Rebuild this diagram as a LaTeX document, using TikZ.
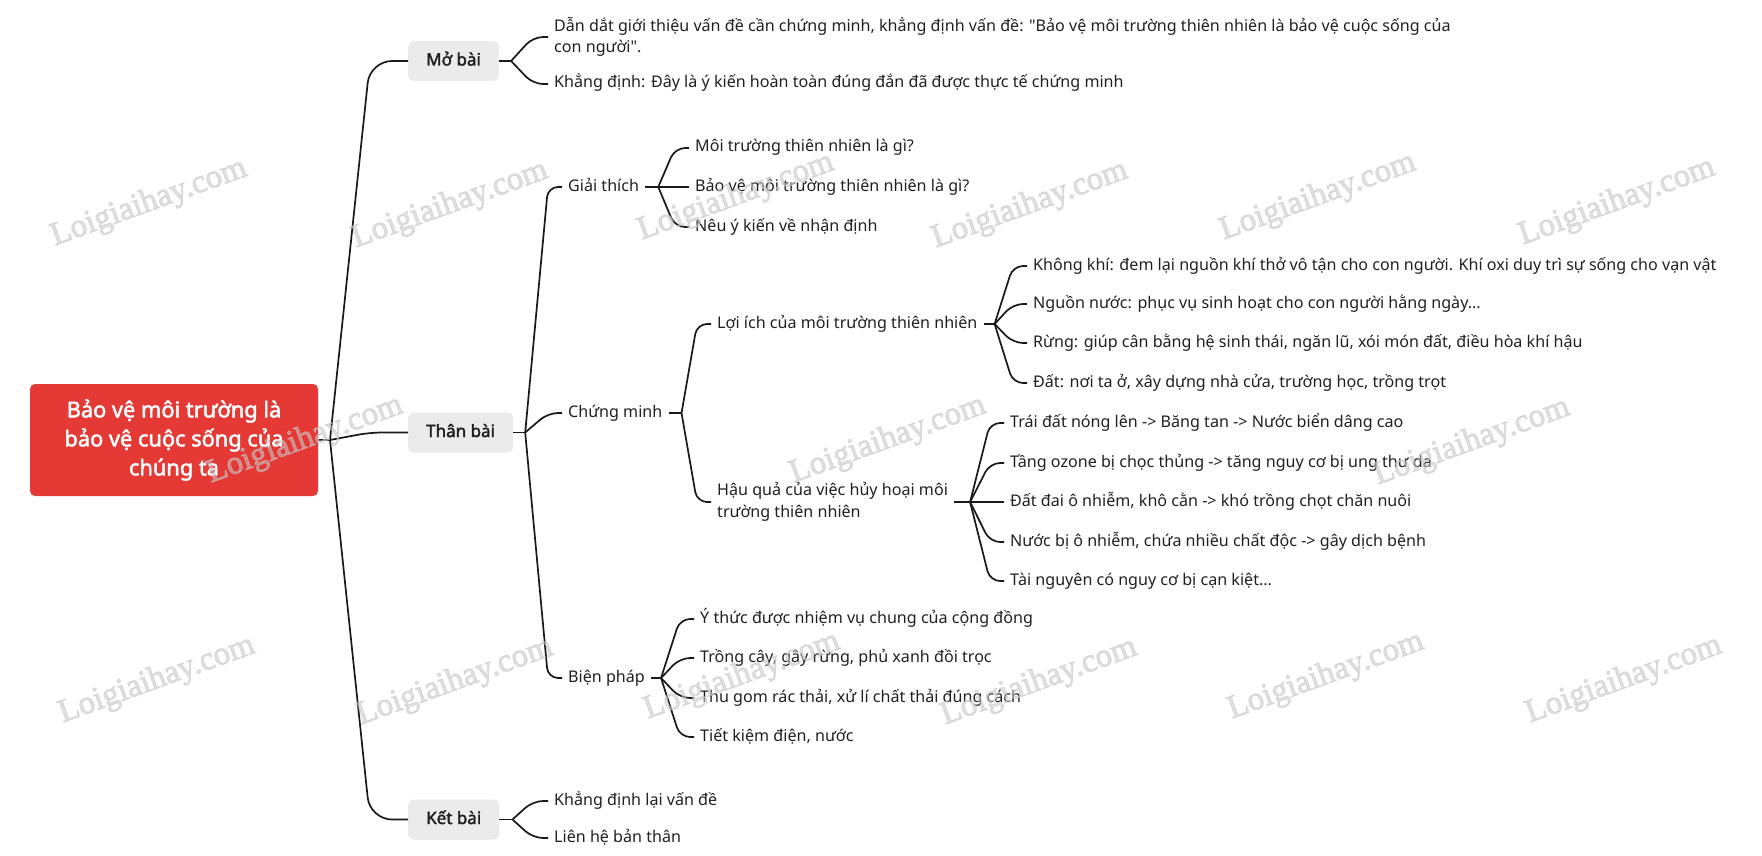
\documentclass[tikz,border=0pt]{standalone}
\usepackage{fontspec}
\setmainfont{Noto Sans}[Ligatures=TeXOff, AutoFakeBold=2.2]
\newfontfamily\wmfont{Liberation Serif}[AutoFakeBold=2.5]
\usetikzlibrary{calc}
\definecolor{rootred}{RGB}{229,57,53}
\definecolor{boxgray}{RGB}{235,235,235}
\definecolor{linecol}{RGB}{25,25,25}
\definecolor{txtcol}{RGB}{32,32,32}
\definecolor{wmgray}{RGB}{200,200,200}
\newcommand\mmlink[4][10pt]{\draw[conn, rounded corners=#1] (#2) -- ($(#3.west)+(-#4,0)$) -- (#3.west);}
\tikzset{
  conn/.style={draw=linecol, line width=1.7pt},
  rootbox/.style={fill=rootred, rounded corners=5pt, minimum width=288pt, minimum height=112pt,
    inner sep=0pt, text=white, align=center, font=\fontsize{21.8}{29}\selectfont\bfseries},
  mainbox/.style={fill=boxgray, rounded corners=6pt, inner xsep=18pt, inner ysep=0pt,
    minimum height=40pt, text height=12.5pt, text depth=3.5pt, anchor=west, text=txtcol,
    font=\fontsize{17}{20}\selectfont\bfseries},
  leaf/.style={inner xsep=6pt, inner ysep=2pt, anchor=west, text=txtcol,
    text height=11.5pt, text depth=3.5pt, font=\fontsize{16.1}{22}\selectfont},
  leafml/.style={inner xsep=6pt, inner ysep=2pt, anchor=west, text=txtcol, align=left,
    font=\fontsize{16.1}{21.5}\selectfont},
  wm/.style={font=\wmfont\bfseries\fontsize{33}{33}\selectfont, text=wmgray, rotate=20, opacity=0.55}
}
\begin{document}
\begin{tikzpicture}[x=1pt,y=-1pt]
\useasboundingbox[fill=white] (0,0) rectangle (1762,856);

% root
\node[rootbox] (root) at (174,440) {Bảo vệ môi trường là\\bảo vệ cuộc sống của\\chúng ta};
\coordinate (j0) at (330,440);

% main topics
\node[mainbox] (mo) at (408,61) {Mở bài};
\node[mainbox] (tb) at (408,432.5) {Thân bài};
\node[mainbox] (kb) at (408,819.5) {Kết bài};

\draw[conn] (root.east) -- (j0);
\draw[conn, rounded corners=22pt] (j0) -- ($(mo.west)+(-38,0)$) -- (mo.west);
\draw[conn, rounded corners=12pt] (j0) -- ($(tb.west)+(-38,0)$) -- (tb.west);
\draw[conn, rounded corners=22pt] (j0) -- ($(kb.west)+(-38,0)$) -- (kb.west);

% Mở bài
\node[leafml] (m1) at (548,37) {Dẫn dắt giới thiệu vấn đề cần chứng minh, khẳng định vấn đề: "Bảo vệ môi trường thiên nhiên là bảo vệ cuộc sống của\\con người".};
\node[leaf] (m2) at (548,84) {Khẳng định: Đây là ý kiến hoàn toàn đúng đắn đã được thực tế chứng minh};
\coordinate (jM) at ($(mo.east)+(12,0)$);
\draw[conn] (mo.east) -- (jM);
\mmlink{jM}{m1}{15}
\mmlink{jM}{m2}{15}

% Thân bài
\node[leaf] (gt) at (562,187) {Giải thích};
\node[leaf] (cm) at (562,413) {Chứng minh};
\node[leaf] (bp) at (562,678) {Biện pháp};
\coordinate (jT) at ($(tb.east)+(12,0)$);
\draw[conn] (tb.east) -- (jT);
\mmlink{jT}{gt}{14}
\mmlink{jT}{cm}{14}
\mmlink{jT}{bp}{14}

% Giải thích
\node[leaf] (g1) at (689,148) {Môi trường thiên nhiên là gì?};
\node[leaf] (g2) at (689,187) {Bảo vệ môi trường thiên nhiên là gì?};
\node[leaf] (g3) at (689,227) {Nêu ý kiến về nhận định};
\coordinate (jG) at ($(gt.east)+(13,0)$);
\draw[conn] (gt.east) -- (jG);
\mmlink{jG}{g1}{14}
\mmlink{jG}{g2}{14}
\mmlink{jG}{g3}{14}

% Chứng minh
\node[leaf] (li) at (711,324) {Lợi ích của môi trường thiên nhiên};
\node[leafml] (hq) at (711,502) {Hậu quả của việc hủy hoại môi\\trường thiên nhiên};
\coordinate (jC) at ($(cm.east)+(13,0)$);
\draw[conn] (cm.east) -- (jC);
\mmlink{jC}{li}{14}
\mmlink{jC}{hq}{14}

% Lợi ích
\node[leaf] (l1) at (1027,266) {Không khí: đem lại nguồn khí thở vô tận cho con người. Khí oxi duy trì sự sống cho vạn vật};
\node[leaf] (l2) at (1027,304) {Nguồn nước: phục vụ sinh hoạt cho con người hằng ngày...};
\node[leaf] (l3) at (1027,343) {Rừng: giúp cân bằng hệ sinh thái, ngăn lũ, xói món đất, điều hòa khí hậu};
\node[leaf] (l4) at (1027,383) {Đất: nơi ta ở, xây dựng nhà cửa, trường học, trồng trọt};
\coordinate (jL) at ($(li.east)+(11,0)$);
\draw[conn] (li.east) -- (jL);
\mmlink{jL}{l1}{14}
\mmlink{jL}{l2}{14}
\mmlink{jL}{l3}{14}
\mmlink{jL}{l4}{14}

% Hậu quả
\node[leaf] (h1) at (1004,423) {Trái đất nóng lên -> Băng tan -> Nước biển dâng cao};
\node[leaf] (h2) at (1004,463) {Tầng ozone bị chọc thủng -> tăng nguy cơ bị ung thư da};
\node[leaf] (h3) at (1004,502) {Đất đai ô nhiễm, khô cằn -> khó trồng chọt chăn nuôi};
\node[leaf] (h4) at (1004,542) {Nước bị ô nhiễm, chứa nhiều chất độc -> gây dịch bệnh};
\node[leaf] (h5) at (1004,581) {Tài nguyên có nguy cơ bị cạn kiệt...};
\coordinate (jH) at ($(hq.east)+(16,0)$);
\draw[conn] (hq.east) -- (jH);
\mmlink{jH}{h1}{14}
\mmlink{jH}{h2}{14}
\mmlink{jH}{h3}{14}
\mmlink{jH}{h4}{14}
\mmlink{jH}{h5}{14}

% Biện pháp
\node[leaf] (b1) at (694,619) {Ý thức được nhiệm vụ chung của cộng đồng};
\node[leaf] (b2) at (694,658) {Trồng cây, gây rừng, phủ xanh đồi trọc};
\node[leaf] (b3) at (694,698) {Thu gom rác thải, xử lí chất thải đúng cách};
\node[leaf] (b4) at (694,737) {Tiết kiệm điện, nước};
\coordinate (jB) at ($(bp.east)+(10,0)$);
\draw[conn] (bp.east) -- (jB);
\mmlink{jB}{b1}{14}
\mmlink{jB}{b2}{14}
\mmlink{jB}{b3}{14}
\mmlink{jB}{b4}{14}

% Kết bài
\node[leaf] (k1) at (548,801) {Khẳng định lại vấn đề};
\node[leaf] (k2) at (548,838) {Liên hệ bản thân};
\coordinate (jK) at ($(kb.east)+(13,0)$);
\draw[conn] (kb.east) -- (jK);
\mmlink{jK}{k1}{15}
\mmlink{jK}{k2}{15}

% watermarks
\foreach \wx/\wy [count=\i] in {149/203,450/205,736/197,1030/205,1318/197,1617/202,
  305/440,888/440,1472/442,
  157/680,455/682,742/676,1039/682,1326/676,1624/680}{
  \node[wm] (wm\i) at (\wx,\wy) {Loigiaihay.com};
}
\end{tikzpicture}
\end{document}
